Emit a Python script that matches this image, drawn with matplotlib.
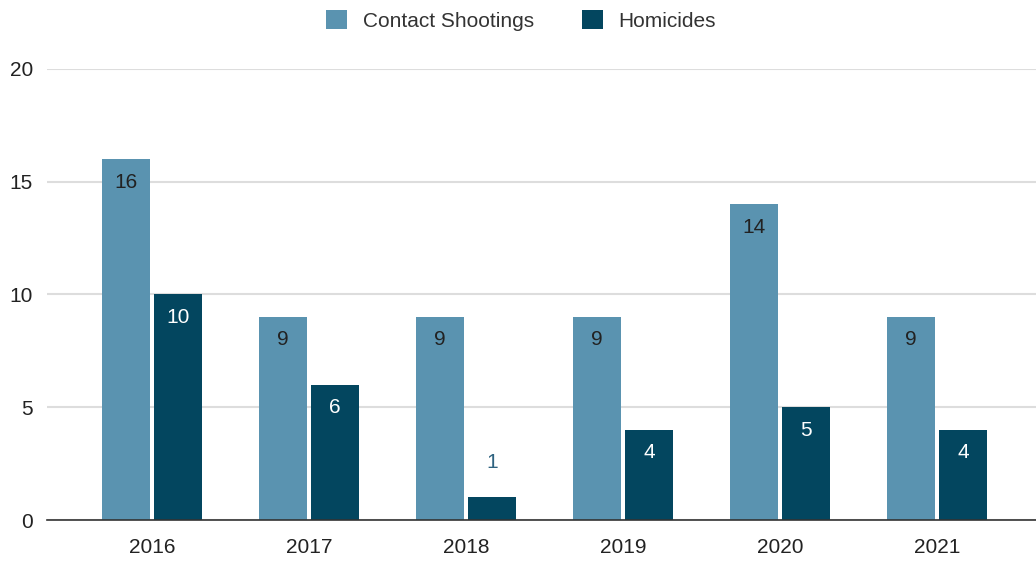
import numpy as np
import matplotlib
matplotlib.use("Agg")
import matplotlib.pyplot as plt

plt.rcParams['font.family'] = ['Liberation Sans', 'DejaVu Sans']

# data
years = ['2016', '2017', '2018', '2019', '2020', '2021']
contact_shootings = [16, 9, 9, 9, 14, 9]
homicides = [10, 6, 1, 4, 5, 4]

c_contact = '#5a93b0'
c_homicide = '#03465f'

fig = plt.figure(figsize=(10.36, 5.61), dpi=100)
ax = fig.add_axes([47 / 1036, 1 - 520 / 561, 1 - 47 / 1036, 451 / 561])

x = np.arange(len(years))
w = 48 / 157
off = 26 / 157

b1 = ax.bar(x - off, contact_shootings, width=w, color=c_contact, label='Contact Shootings', zorder=3)
b2 = ax.bar(x + off, homicides, width=w, color=c_homicide, label='Homicides', zorder=3)

# value labels
for xi, v in zip(x - off, contact_shootings):
    ax.annotate(str(v), (xi, v), xytext=(0, -16.5), textcoords='offset points',
                ha='center', va='center', fontsize=15, color='#222222', zorder=4)
for xi, v in zip(x + off, homicides):
    if v >= 2:
        ax.annotate(str(v), (xi, v), xytext=(0, -16.5), textcoords='offset points',
                    ha='center', va='center', fontsize=15, color='white', zorder=4)
    else:
        ax.annotate(str(v), (xi, v), xytext=(0, 25), textcoords='offset points',
                    ha='center', va='center', fontsize=15, color='#2f6380', zorder=4)

ax.set_ylim(0, 20)
ax.set_xlim((47 - 152) / 157, (1036 - 152) / 157)
ax.set_yticks([0, 5, 10, 15, 20])
ax.set_xticks(x)
ax.set_xticklabels(years)
ax.yaxis.grid(True, color='#dddddd', linewidth=1.5, zorder=0)
ax.set_axisbelow(True)
for s in ['top', 'right', 'left']:
    ax.spines[s].set_visible(False)
ax.spines['bottom'].set_color('#333333')
ax.spines['bottom'].set_linewidth(1.2)
ax.spines['bottom'].set_zorder(5)
ax.tick_params(axis='both', length=0, labelsize=15, colors='#222222')
ax.tick_params(axis='x', pad=13)
ax.tick_params(axis='y', pad=10)

fig.legend(handles=[b1, b2], loc='upper center', bbox_to_anchor=(0.503, 1.015), ncol=2,
           frameon=False, fontsize=15, handlelength=1.0, handleheight=1.0,
           handletextpad=0.75, columnspacing=2.3, labelcolor='#333333')

fig.savefig('out.png', dpi=100)
